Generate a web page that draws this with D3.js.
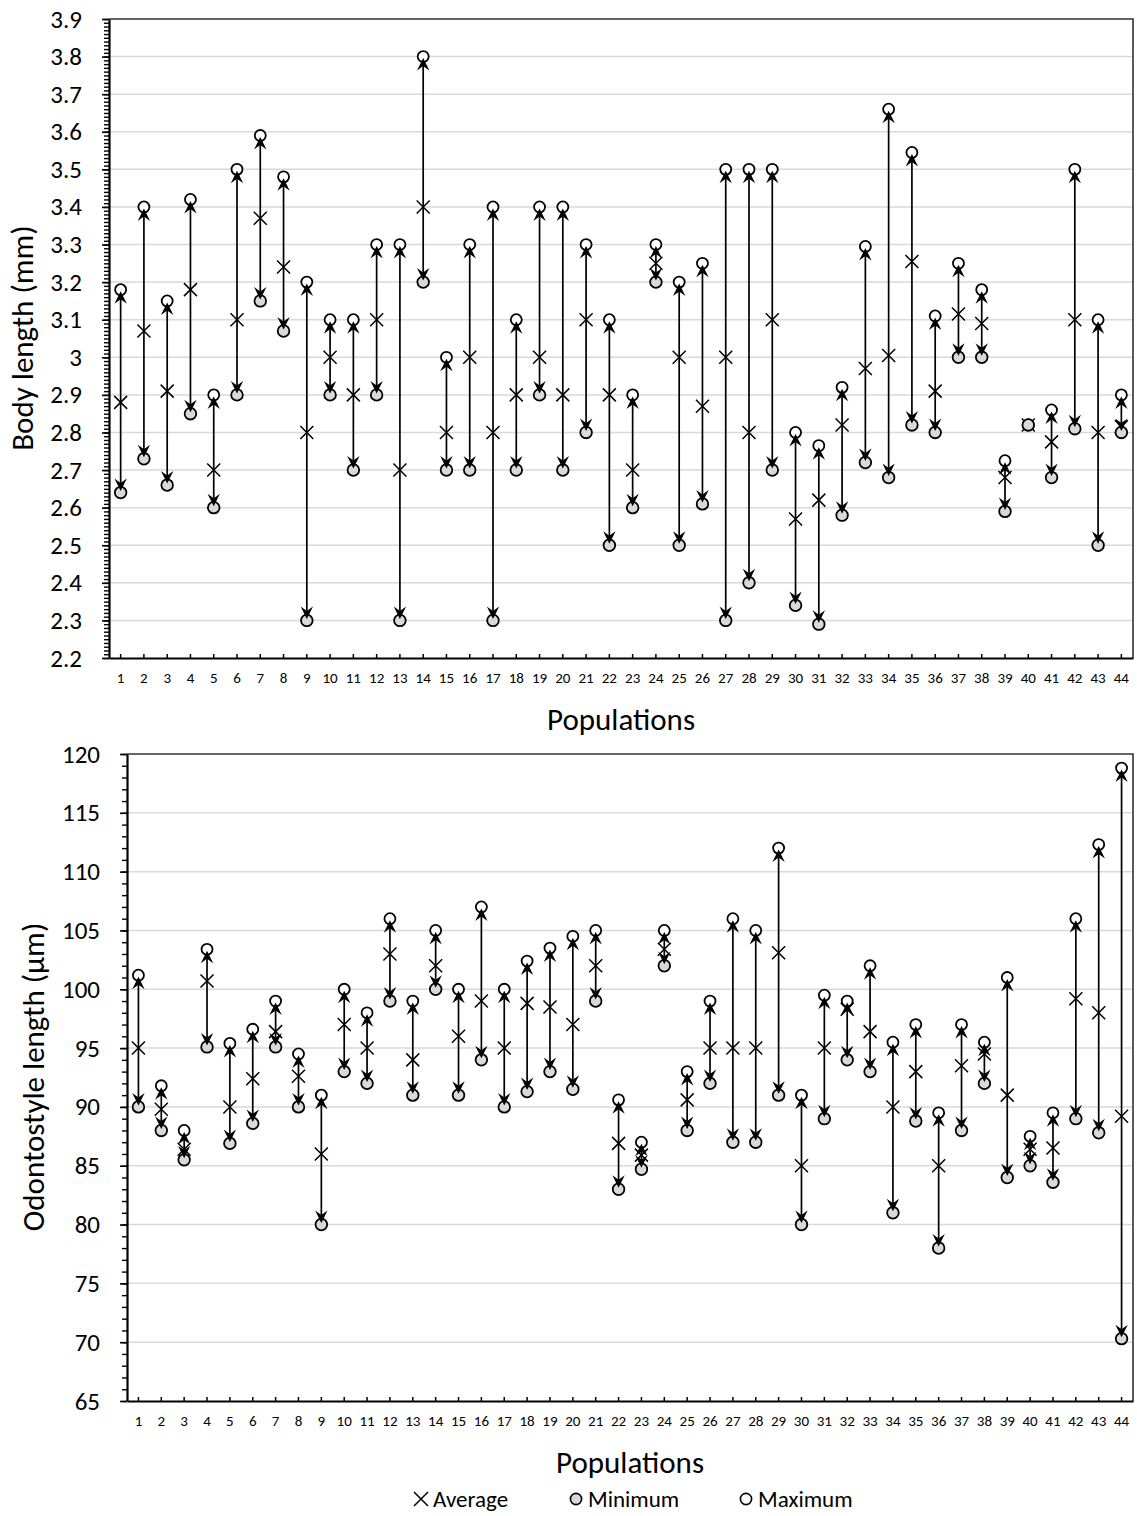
<!DOCTYPE html>
<html>
<head>
<meta charset="utf-8">
<script src="https://cdn.jsdelivr.net/npm/d3@7"></script>
<style>
  body { margin: 0; background: #fff; }
  text { font-family: Carlito, Calibri, Lato, sans-serif; fill: #000; }
</style>
</head>
<body>
<div id="chart"></div>
<script>
// populations 1..44
var populations = [1,2,3,4,5,6,7,8,9,10,11,12,13,14,15,16,17,18,19,20,21,22,
                   23,24,25,26,27,28,29,30,31,32,33,34,35,36,37,38,39,40,41,42,43,44];

// body length (mm)
var bodyAvg = [2.88,3.07,2.91,3.18,2.70,3.10,3.37,3.24,2.80,3.00,2.90,3.10,2.70,3.40,2.80,3.00,2.80,2.90,3.00,2.90,3.10,2.90,
               2.70,3.25,3.00,2.87,3.00,2.80,3.10,2.57,2.62,2.82,2.97,3.005,3.255,2.91,3.115,3.09,2.68,2.82,2.775,3.10,2.80,2.815];
var bodyMin = [2.64,2.73,2.66,2.85,2.60,2.90,3.15,3.07,2.30,2.90,2.70,2.90,2.30,3.20,2.70,2.70,2.30,2.70,2.90,2.70,2.80,2.50,
               2.60,3.20,2.50,2.61,2.30,2.40,2.70,2.34,2.29,2.58,2.72,2.68,2.82,2.80,3.00,3.00,2.59,2.82,2.68,2.81,2.50,2.80];
var bodyMax = [3.18,3.40,3.15,3.42,2.90,3.50,3.59,3.48,3.20,3.10,3.10,3.30,3.30,3.80,3.00,3.30,3.40,3.10,3.40,3.40,3.30,3.10,
               2.90,3.30,3.20,3.25,3.50,3.50,3.50,2.80,2.765,2.92,3.295,3.66,3.545,3.11,3.25,3.18,2.725,2.82,2.86,3.50,3.10,2.90];

// odontostyle length (µm)
var odoAvg = [95.0,89.8,86.4,100.7,90.0,92.4,96.4,92.6,86.0,97.0,95.0,103.0,94.0,102.0,96.0,99.0,95.0,98.8,98.5,97.0,102.0,86.9,
              85.9,103.4,90.6,95.0,95.0,95.0,103.1,85.0,95.0,98.3,96.4,90.0,93.0,85.0,93.5,94.5,91.0,86.4,86.5,99.2,98.0,89.2];
var odoMin = [90.0,88.0,85.5,95.1,86.9,88.6,95.1,90.0,80.0,93.0,92.0,99.0,91.0,100.0,91.0,94.0,90.0,91.3,93.0,91.5,99.0,83.0,
              84.7,102.0,88.0,92.0,87.0,87.0,91.0,80.0,89.0,94.0,93.0,81.0,88.8,78.0,88.0,92.0,84.0,85.0,83.6,89.0,87.8,70.3];
var odoMax = [101.2,91.8,88.0,103.4,95.4,96.6,99.0,94.5,91.0,100.0,98.0,106.0,99.0,105.0,100.0,107.0,100.0,102.4,103.5,104.5,105.0,90.6,
              87.0,105.0,93.0,99.0,106.0,105.0,112.0,91.0,99.5,99.0,102.0,95.5,97.0,89.5,97.0,95.5,101.0,87.5,89.5,106.0,112.3,118.8];

// axis ticks
var bodyTicks = [2.2,2.3,2.4,2.5,2.6,2.7,2.8,2.9,3.0,3.1,3.2,3.3,3.4,3.5,3.6,3.7,3.8,3.9];
var odoTicks = [65,70,75,80,85,90,95,100,105,110,115,120];
var legendLabels = ["Average", "Minimum", "Maximum"];

var width = 1137, height = 1516;
var font = 'Carlito, Calibri, Lato, sans-serif';

var svg = d3.select('#chart')
    .append('svg')
    .attr('width', width)
    .attr('height', height);

function drawPanel(opt) {
    var g = svg.append('g');

    var x = d3.scaleBand()
        .domain(populations)
        .range([opt.left, opt.right]);

    var y = d3.scaleLinear()
        .domain([opt.ticks[0], opt.ticks[opt.ticks.length - 1]])
        .range([opt.bottom, opt.top]);

    var cx = function(i) { return x(populations[i]) + x.bandwidth() / 2; };

    // gridlines
    g.append('g')
        .selectAll('line')
        .data(opt.ticks.slice(1, -1))
        .join('line')
        .attr('x1', opt.left).attr('x2', opt.right)
        .attr('y1', d => y(d)).attr('y2', d => y(d))
        .attr('stroke', '#d9d9d9')
        .attr('stroke-width', 1.5);

    // top and right frame
    g.append('path')
        .attr('d', 'M' + opt.left + ',' + opt.top + 'H' + opt.right + 'V' + opt.bottom)
        .attr('fill', 'none')
        .attr('stroke', '#333')
        .attr('stroke-width', 1.6);

    // minor ticks on y
    var minor = [];
    for (var v = opt.ticks[0]; v <= opt.ticks[opt.ticks.length - 1] + 1e-9; v += opt.minorStep) minor.push(+v.toFixed(4));
    g.append('g')
        .attr('transform', 'translate(' + opt.left + ',0)')
        .call(d3.axisLeft(y).tickValues(minor).tickSize(5).tickFormat(''))
        .call(s => s.select('.domain').remove())
        .call(s => s.selectAll('line').attr('stroke', '#000').attr('stroke-width', 1.4));

    // major y axis
    g.append('g')
        .attr('transform', 'translate(' + opt.left + ',0)')
        .call(d3.axisLeft(y).tickValues(opt.ticks).tickSize(7).tickSizeOuter(0).tickPadding(20)
            .tickFormat(d3.format('')))
        .call(s => s.select('.domain').attr('stroke', '#000').attr('stroke-width', 2.2))
        .call(s => s.selectAll('line').attr('stroke', '#000').attr('stroke-width', 1.6))
        .call(s => s.selectAll('text').attr('font-size', 25).attr('font-family', font));

    // x axis
    g.append('g')
        .attr('transform', 'translate(0,' + opt.bottom + ')')
        .call(d3.axisBottom(x).tickSizeInner(-4).tickSizeOuter(0).tickPadding(14))
        .call(s => s.select('.domain').attr('stroke', '#000').attr('stroke-width', 2.2))
        .call(s => s.selectAll('line').attr('stroke', '#000').attr('stroke-width', 1.5))
        .call(s => s.selectAll('text').attr('font-size', 15).attr('font-family', font));

    // y title
    g.append('text')
        .attr('transform', 'translate(' + opt.titleX + ',' + opt.titleY + ') rotate(-90)')
        .attr('text-anchor', 'middle')
        .attr('font-size', 31)
        .text(opt.yTitle);

    // x title
    g.append('text')
        .attr('x', (opt.left + opt.right) / 2)
        .attr('y', opt.bottom + 72)
        .attr('text-anchor', 'middle')
        .attr('font-size', 31)
        .text('Populations');

    var idx = d3.range(populations.length);

    // error lines from average to min and max
    var lines = g.append('g').attr('stroke', '#000').attr('stroke-width', 1.7);
    idx.forEach(function(i) {
        [opt.max[i], opt.min[i]].forEach(function(end) {
            if (Math.abs(y(end) - y(opt.avg[i])) < 1) return;
            lines.append('line')
                .attr('x1', cx(i)).attr('x2', cx(i))
                .attr('y1', y(opt.avg[i])).attr('y2', y(end));
        });
    });

    // average markers
    g.append('g')
        .selectAll('path')
        .data(idx)
        .join('path')
        .attr('d', i => {
            var px = cx(i), py = y(opt.avg[i]), s = 6.5;
            return 'M' + (px - s) + ',' + (py - s) + 'L' + (px + s) + ',' + (py + s) +
                   'M' + (px - s) + ',' + (py + s) + 'L' + (px + s) + ',' + (py - s);
        })
        .attr('stroke', '#000')
        .attr('stroke-width', 1.5)
        .attr('fill', 'none');

    // maximum
    g.append('g')
        .selectAll('circle')
        .data(idx)
        .join('circle')
        .attr('cx', i => cx(i))
        .attr('cy', i => y(opt.max[i]))
        .attr('r', 5.5)
        .attr('fill', '#fff')
        .attr('stroke', '#000')
        .attr('stroke-width', 1.8);

    // minimum
    g.append('g')
        .selectAll('circle')
        .data(idx)
        .join('circle')
        .attr('cx', i => cx(i))
        .attr('cy', i => y(opt.min[i]))
        .attr('r', 5.8)
        .attr('fill', '#d9d9d9')
        .attr('stroke', '#000')
        .attr('stroke-width', 1.8);

    // arrow heads
    var heads = g.append('g').attr('fill', '#000');
    idx.forEach(function(i) {
        [opt.max[i], opt.min[i]].forEach(function(end) {
            var dy = y(end) - y(opt.avg[i]);
            if (Math.abs(dy) < 1) return;
            var rot = dy < 0 ? 0 : 180;
            heads.append('path')
                .attr('d', 'M0,1.5 L6.2,14 L0,9.5 L-6.2,14 Z')
                .attr('transform', 'translate(' + cx(i) + ',' + y(end) + ') rotate(' + rot + ')');
        });
    });
}

drawPanel({
    left: 109, right: 1133, top: 19, bottom: 658,
    ticks: bodyTicks, minorStep: 0.01,
    avg: bodyAvg, min: bodyMin, max: bodyMax,
    yTitle: 'Body length (mm)', titleX: 33, titleY: 338
});

drawPanel({
    left: 127, right: 1133, top: 754, bottom: 1401,
    ticks: odoTicks, minorStep: 1,
    avg: odoAvg, min: odoMin, max: odoMax,
    yTitle: 'Odontostyle length (µm)', titleX: 44, titleY: 1077
});

// legend
var legend = svg.append('g');
legend.append('path')
    .attr('d', 'M414,1492L428,1506M414,1506L428,1492')
    .attr('stroke', '#000').attr('stroke-width', 1.5);
legend.append('circle')
    .attr('cx', 576).attr('cy', 1499).attr('r', 5.6)
    .attr('fill', '#d9d9d9').attr('stroke', '#000').attr('stroke-width', 1.6);
legend.append('circle')
    .attr('cx', 746).attr('cy', 1499).attr('r', 5.6)
    .attr('fill', '#fff').attr('stroke', '#000').attr('stroke-width', 1.6);
legend.selectAll('text.lg')
    .data(legendLabels)
    .join('text')
    .attr('class', 'lg')
    .attr('x', (d, i) => [433, 588, 758][i])
    .attr('y', 1507)
    .attr('font-size', 23)
    .text(d => d);
</script>
</body>
</html>
